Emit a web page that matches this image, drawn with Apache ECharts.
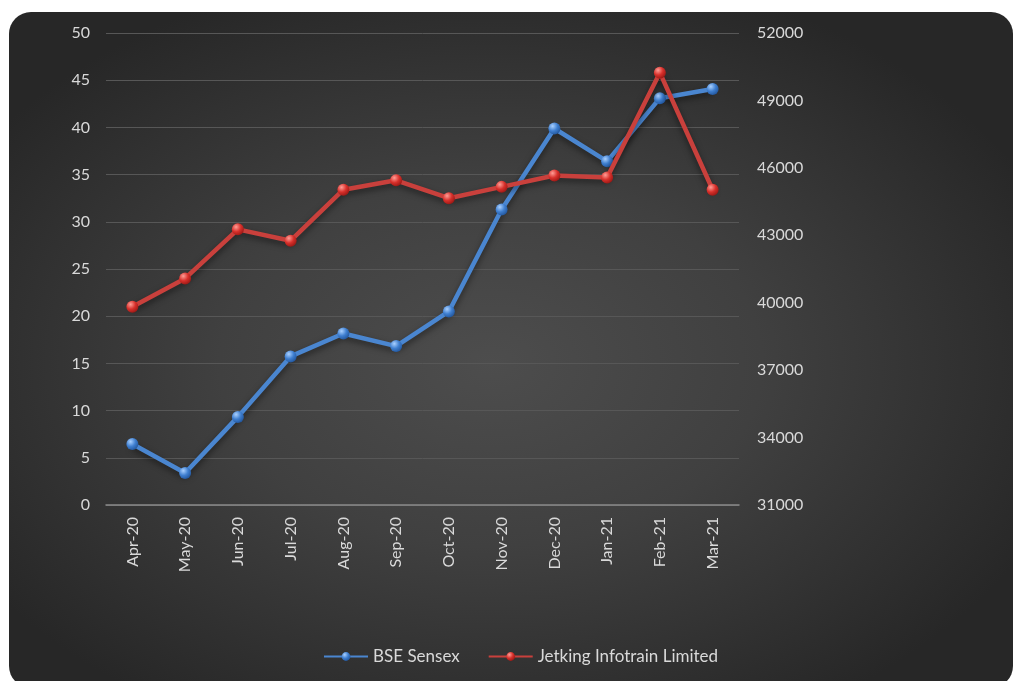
<!DOCTYPE html>
<html>
<head>
<meta charset="utf-8">
<script src="https://cdn.jsdelivr.net/npm/echarts@6/dist/echarts.min.js"></script>
<style>
  html, body { margin: 0; padding: 0; background: #fff; }
  #wrap {
    position: absolute; left: 9px; top: 12px; width: 1004px; height: 676px;
    border-radius: 22px; overflow: hidden;
    background: radial-gradient(ellipse 60% 60% at 48% 52%, #4d4d4d 0%, #404040 45%, #272727 100%);
  }
  #main { width: 1004px; height: 676px; }
</style>
</head>
<body>
<div id="wrap"><div id="main"></div></div>
<script>
const months = ['Apr-20', 'May-20', 'Jun-20', 'Jul-20', 'Aug-20', 'Sep-20',
  'Oct-20', 'Nov-20', 'Dec-20', 'Jan-21', 'Feb-21', 'Mar-21']
// right axis
const sensex = [33710, 32420, 34920, 37610, 38630, 38070, 39610, 44150, 47750, 46290, 49100, 49510]
// left axis
const jetking = [21.0, 24.0, 29.2, 28.0, 33.4, 34.4, 32.5, 33.7, 34.9, 34.7, 45.8, 33.4]

const labelColor = '#d9d9d9'
const font = 'Lato, "Open Sans", sans-serif'

function ball(light, mid, dark) {
  return new echarts.graphic.RadialGradient(0.35, 0.3, 0.8, [
    { offset: 0, color: light },
    { offset: 0.5, color: mid },
    { offset: 1, color: dark }
  ])
}

const chart = echarts.init(document.getElementById('main'))
chart.setOption({
  backgroundColor: 'transparent',
  textStyle: { fontFamily: font },
  grid: { left: 97, right: 274, top: 21, bottom: 183 },
  legend: {
    bottom: 18,
    left: 309,
    itemGap: 28,
    itemWidth: 44,
    itemHeight: 11,
    textStyle: { color: labelColor, fontSize: 17, fontFamily: font },
    data: ['BSE Sensex', 'Jetking Infotrain Limited']
  },
  xAxis: {
    type: 'category',
    data: months,
    boundaryGap: true,
    axisLine: { lineStyle: { color: '#8a8a8a', width: 1.5 } },
    axisTick: { show: false },
    axisLabel: { rotate: 90, color: labelColor, fontSize: 16, margin: 12, interval: 0 }
  },
  yAxis: [
    {
      type: 'value',
      min: 0,
      max: 50,
      interval: 5,
      position: 'left',
      axisLine: { show: false },
      axisTick: { show: false },
      axisLabel: { color: labelColor, fontSize: 16, margin: 16 },
      splitLine: { lineStyle: { color: '#575757', width: 1 } }
    },
    {
      type: 'value',
      min: 31000,
      max: 52000,
      interval: 3000,
      position: 'right',
      axisLine: { show: false },
      axisTick: { show: false },
      axisLabel: { color: labelColor, fontSize: 16, margin: 18, formatter: v => String(v) },
      splitLine: { show: false }
    }
  ],
  series: [
    {
      name: 'BSE Sensex',
      type: 'line',
      yAxisIndex: 1,
      data: sensex,
      symbol: 'circle',
      symbolSize: 12,
      lineStyle: { color: '#4a86d0', width: 4.5, shadowColor: 'rgba(0,0,0,0.5)', shadowBlur: 6, shadowOffsetY: 3 },
      itemStyle: { color: ball('#a9d0ff', '#3f7fd0', '#1d4f94'), borderWidth: 0 },
      z: 2
    },
    {
      name: 'Jetking Infotrain Limited',
      type: 'line',
      yAxisIndex: 0,
      data: jetking,
      symbol: 'circle',
      symbolSize: 12,
      lineStyle: { color: '#c9403c', width: 4.5, shadowColor: 'rgba(0,0,0,0.5)', shadowBlur: 6, shadowOffsetY: 3 },
      itemStyle: { color: ball('#ff9d96', '#d8302b', '#8e1411'), borderWidth: 0 },
      z: 3
    }
  ]
})
</script>
</body>
</html>
